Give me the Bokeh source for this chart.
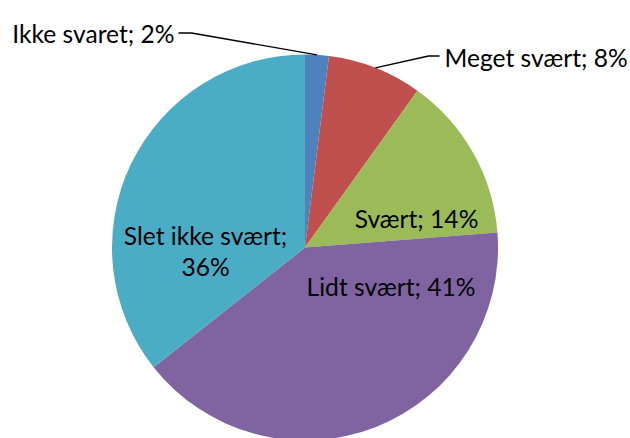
import math
from bokeh.plotting import figure
from bokeh.models import Range1d
from bokeh.core.properties import value
from bokeh.embed import file_html
from bokeh.resources import INLINE

# ---- data ----
categories = ["Ikke svaret", "Meget svært", "Svært", "Lidt svært", "Slet ikke svært"]
percents = [2, 8, 14, 41, 36]
colors = ["#4F81BD", "#C0504D", "#9BBB59", "#8064A2", "#4BACC6"]

# ---- layout (picture pixels, converted below) ----
W, H = 630, 438
def X(px):
    return px
def Y(py):
    return H - py

cx, cy, R = 304.5, 247, 193

p = figure(width=W, height=H, output_backend="svg", toolbar_location=None,
           x_range=Range1d(0, W), y_range=Range1d(0, H), min_border=0)
p.axis.visible = False
p.grid.visible = False
p.outline_line_color = None
p.background_fill_color = "white"
p.border_fill_color = "white"

total = sum(percents)
starts, ends, mids = [], [], []
cum = 0
for v in percents:
    a0 = cum / total
    cum += v
    a1 = cum / total
    # clockwise from 12 o'clock
    starts.append(math.pi / 2 - a1 * 2 * math.pi)
    ends.append(math.pi / 2 - a0 * 2 * math.pi)
    mids.append((a0 + a1) / 2 * 2 * math.pi)

p.wedge(x=[X(cx)] * len(percents), y=[Y(cy)] * len(percents), radius=R,
        start_angle=starts, end_angle=ends, direction="anticlock",
        fill_color=colors, line_color=None)

font = value("Lato")
fs = "24.6px"

labels = [f"{c}; {v}%" for c, v in zip(categories, percents)]

# leader lines for the two small slices
def edge_point(i):
    m = mids[i]
    return cx + R * math.sin(m), cy - R * math.cos(m)

ex, ey = edge_point(0)
p.line([X(178), X(191), X(ex)], [Y(32.5), Y(32.5), Y(ey)], line_color="black", line_width=1.3)
ex, ey = edge_point(1)
p.line([X(439), X(428), X(ex)], [Y(55.5), Y(55.5), Y(ey)], line_color="black", line_width=1.3)

# outside labels
p.text(x=[X(174)], y=[Y(33)], text=[labels[0]], text_font=font, text_font_size=fs,
       text_align="right", text_baseline="alphabetic", text_color="black")
p.text(x=[X(444)], y=[Y(57)], text=[labels[1]], text_font=font, text_font_size=fs,
       text_align="left", text_baseline="alphabetic", text_color="black")

# inside labels
p.text(x=[X(416)], y=[Y(218)], text=[labels[2]], text_font=font, text_font_size=fs,
       text_align="center", text_baseline="alphabetic", text_color="black")
p.text(x=[X(390.5)], y=[Y(286)], text=[labels[3]], text_font=font, text_font_size=fs,
       text_align="center", text_baseline="alphabetic", text_color="black")
p.text(x=[X(205), X(205)], y=[Y(235), Y(266)],
       text=[f"{categories[4]};", f"{percents[4]}%"], text_font=font, text_font_size=fs,
       text_align="center", text_baseline="alphabetic", text_color="black")

open("out.html", "w").write(file_html(p, INLINE))
